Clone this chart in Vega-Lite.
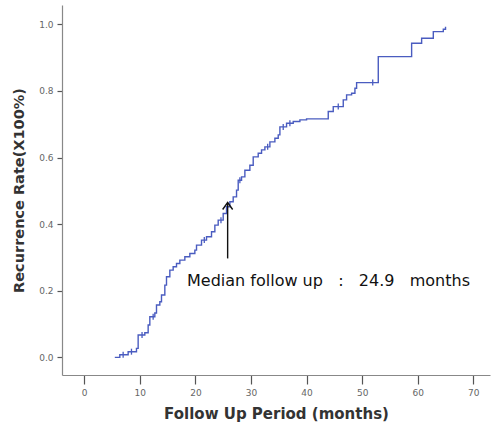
{
  "$schema": "https://vega.github.io/schema/vega-lite/v6.json",
  "width": 428,
  "height": 370,
  "autosize": {"type": "none"},
  "padding": {"left": 62, "top": 5, "right": 2, "bottom": 54},
  "background": "white",
  "config": {"view": {"stroke": null}},
  "datasets": {
    "km": [
      {"month": 5.5, "rate": 0.0, "censor": false},
      {"month": 6.4, "rate": 0.008, "censor": false},
      {"month": 7.0, "rate": 0.008, "censor": true},
      {"month": 7.9, "rate": 0.017, "censor": false},
      {"month": 8.5, "rate": 0.017, "censor": true},
      {"month": 9.4, "rate": 0.027, "censor": false},
      {"month": 9.7, "rate": 0.067, "censor": false},
      {"month": 10.4, "rate": 0.067, "censor": true},
      {"month": 10.9, "rate": 0.074, "censor": false},
      {"month": 11.5, "rate": 0.097, "censor": false},
      {"month": 11.8, "rate": 0.122, "censor": false},
      {"month": 12.4, "rate": 0.122, "censor": true},
      {"month": 12.7, "rate": 0.133, "censor": false},
      {"month": 13.0, "rate": 0.157, "censor": false},
      {"month": 13.6, "rate": 0.167, "censor": false},
      {"month": 13.9, "rate": 0.187, "censor": false},
      {"month": 14.5, "rate": 0.217, "censor": false},
      {"month": 14.8, "rate": 0.242, "censor": false},
      {"month": 15.4, "rate": 0.262, "censor": false},
      {"month": 16.0, "rate": 0.272, "censor": false},
      {"month": 16.6, "rate": 0.282, "censor": false},
      {"month": 17.2, "rate": 0.292, "censor": false},
      {"month": 18.1, "rate": 0.302, "censor": false},
      {"month": 19.0, "rate": 0.312, "censor": false},
      {"month": 19.9, "rate": 0.322, "censor": false},
      {"month": 20.2, "rate": 0.337, "censor": false},
      {"month": 21.1, "rate": 0.352, "censor": false},
      {"month": 21.6, "rate": 0.352, "censor": true},
      {"month": 22.0, "rate": 0.362, "censor": false},
      {"month": 22.9, "rate": 0.377, "censor": false},
      {"month": 23.5, "rate": 0.397, "censor": false},
      {"month": 24.1, "rate": 0.412, "censor": false},
      {"month": 24.6, "rate": 0.412, "censor": true},
      {"month": 25.0, "rate": 0.432, "censor": false},
      {"month": 25.6, "rate": 0.452, "censor": false},
      {"month": 26.2, "rate": 0.467, "censor": false},
      {"month": 26.8, "rate": 0.482, "censor": false},
      {"month": 27.4, "rate": 0.502, "censor": false},
      {"month": 27.7, "rate": 0.532, "censor": false},
      {"month": 28.0, "rate": 0.532, "censor": true},
      {"month": 28.3, "rate": 0.542, "censor": false},
      {"month": 28.9, "rate": 0.562, "censor": false},
      {"month": 29.8, "rate": 0.577, "censor": false},
      {"month": 30.4, "rate": 0.602, "censor": false},
      {"month": 31.3, "rate": 0.613, "censor": false},
      {"month": 31.9, "rate": 0.623, "censor": false},
      {"month": 32.5, "rate": 0.632, "censor": false},
      {"month": 33.0, "rate": 0.632, "censor": true},
      {"month": 33.4, "rate": 0.647, "censor": false},
      {"month": 34.3, "rate": 0.658, "censor": false},
      {"month": 34.9, "rate": 0.668, "censor": false},
      {"month": 35.2, "rate": 0.692, "censor": false},
      {"month": 35.8, "rate": 0.692, "censor": true},
      {"month": 36.4, "rate": 0.703, "censor": false},
      {"month": 37.0, "rate": 0.703, "censor": true},
      {"month": 37.6, "rate": 0.708, "censor": false},
      {"month": 38.8, "rate": 0.713, "censor": false},
      {"month": 40.0, "rate": 0.716, "censor": false},
      {"month": 43.9, "rate": 0.738, "censor": false},
      {"month": 44.8, "rate": 0.753, "censor": false},
      {"month": 45.7, "rate": 0.753, "censor": true},
      {"month": 46.6, "rate": 0.773, "censor": false},
      {"month": 47.2, "rate": 0.788, "censor": false},
      {"month": 48.1, "rate": 0.793, "censor": false},
      {"month": 48.7, "rate": 0.808, "censor": false},
      {"month": 49.0, "rate": 0.825, "censor": false},
      {"month": 51.9, "rate": 0.825, "censor": true},
      {"month": 52.9, "rate": 0.903, "censor": false},
      {"month": 58.9, "rate": 0.943, "censor": false},
      {"month": 60.7, "rate": 0.958, "censor": false},
      {"month": 62.8, "rate": 0.978, "censor": false},
      {"month": 64.6, "rate": 0.985, "censor": false},
      {"month": 65.0, "rate": 0.993, "censor": false}
    ],
    "arrow": [
      {"month": 25.8, "rate": 0.297, "end": 0.465}
    ],
    "note": [
      {"month": 18.5, "rate": 0.229, "label": "Median follow up\u00a0\u00a0 :\u00a0\u00a0 24.9\u00a0\u00a0 months"}
    ]
  },
  "layer": [
    {
      "data": {"name": "km"},
      "mark": {"type": "line", "interpolate": "step-after", "color": "#4a5cc0", "strokeWidth": 1.4},
      "encoding": {
        "x": {
          "field": "month", "type": "quantitative",
          "scale": {"domain": [-4, 73], "nice": false, "zero": false},
          "axis": {
            "values": [0, 10, 20, 30, 40, 50, 60, 70],
            "title": "Follow  Up Period (months)",
            "titleFont": "DejaVu Sans", "titleFontSize": 15, "titleFontWeight": "bold",
            "titleColor": "#333", "titlePadding": 9,
            "labelFont": "DejaVu Sans", "labelFontSize": 9, "labelColor": "#666",
            "labelPadding": 4,
            "tickSize": 9, "tickColor": "#555", "tickWidth": 1.2,
            "domainColor": "#888", "domainWidth": 1.2, "grid": false
          }
        },
        "y": {
          "field": "rate", "type": "quantitative",
          "scale": {"domain": [-0.053, 1.058], "nice": false, "zero": false},
          "axis": {
            "values": [0, 0.2, 0.4, 0.6, 0.8, 1.0],
            "format": ".1f",
            "title": "Recurrence Rate(X100%)",
            "titleFont": "DejaVu Sans", "titleFontSize": 14.5, "titleFontWeight": "bold",
            "titleColor": "#333", "titlePadding": 12,
            "labelFont": "DejaVu Sans", "labelFontSize": 9, "labelColor": "#666",
            "labelPadding": 4,
            "tickSize": 5, "tickColor": "#555", "tickWidth": 1.2,
            "domainColor": "#888", "domainWidth": 1.2, "grid": false
          }
        }
      }
    },
    {
      "data": {"name": "km"},
      "transform": [{"filter": "datum.censor"}],
      "mark": {"type": "point", "shape": "M0,-1L0,1", "filled": false, "color": "#4a5cc0", "strokeWidth": 1.3, "size": 36, "opacity": 1},
      "encoding": {
        "x": {"field": "month", "type": "quantitative"},
        "y": {"field": "rate", "type": "quantitative"}
      }
    },
    {
      "data": {"name": "arrow"},
      "mark": {"type": "rule", "color": "#111", "strokeWidth": 1.4},
      "encoding": {
        "x": {"field": "month", "type": "quantitative"},
        "y": {"field": "rate", "type": "quantitative"},
        "y2": {"field": "end"}
      }
    },
    {
      "data": {"name": "arrow"},
      "mark": {"type": "point", "shape": "M-1,1.4L0,0L1,1.4", "filled": false, "color": "#111", "strokeWidth": 1.4, "size": 100, "opacity": 1},
      "encoding": {
        "x": {"field": "month", "type": "quantitative"},
        "y": {"field": "end", "type": "quantitative"}
      }
    },
    {
      "data": {"name": "note"},
      "mark": {"type": "text", "align": "left", "baseline": "middle", "font": "DejaVu Sans", "fontSize": 16, "color": "#111"},
      "encoding": {
        "x": {"field": "month", "type": "quantitative"},
        "y": {"field": "rate", "type": "quantitative"},
        "text": {"field": "label"}
      }
    }
  ]
}
